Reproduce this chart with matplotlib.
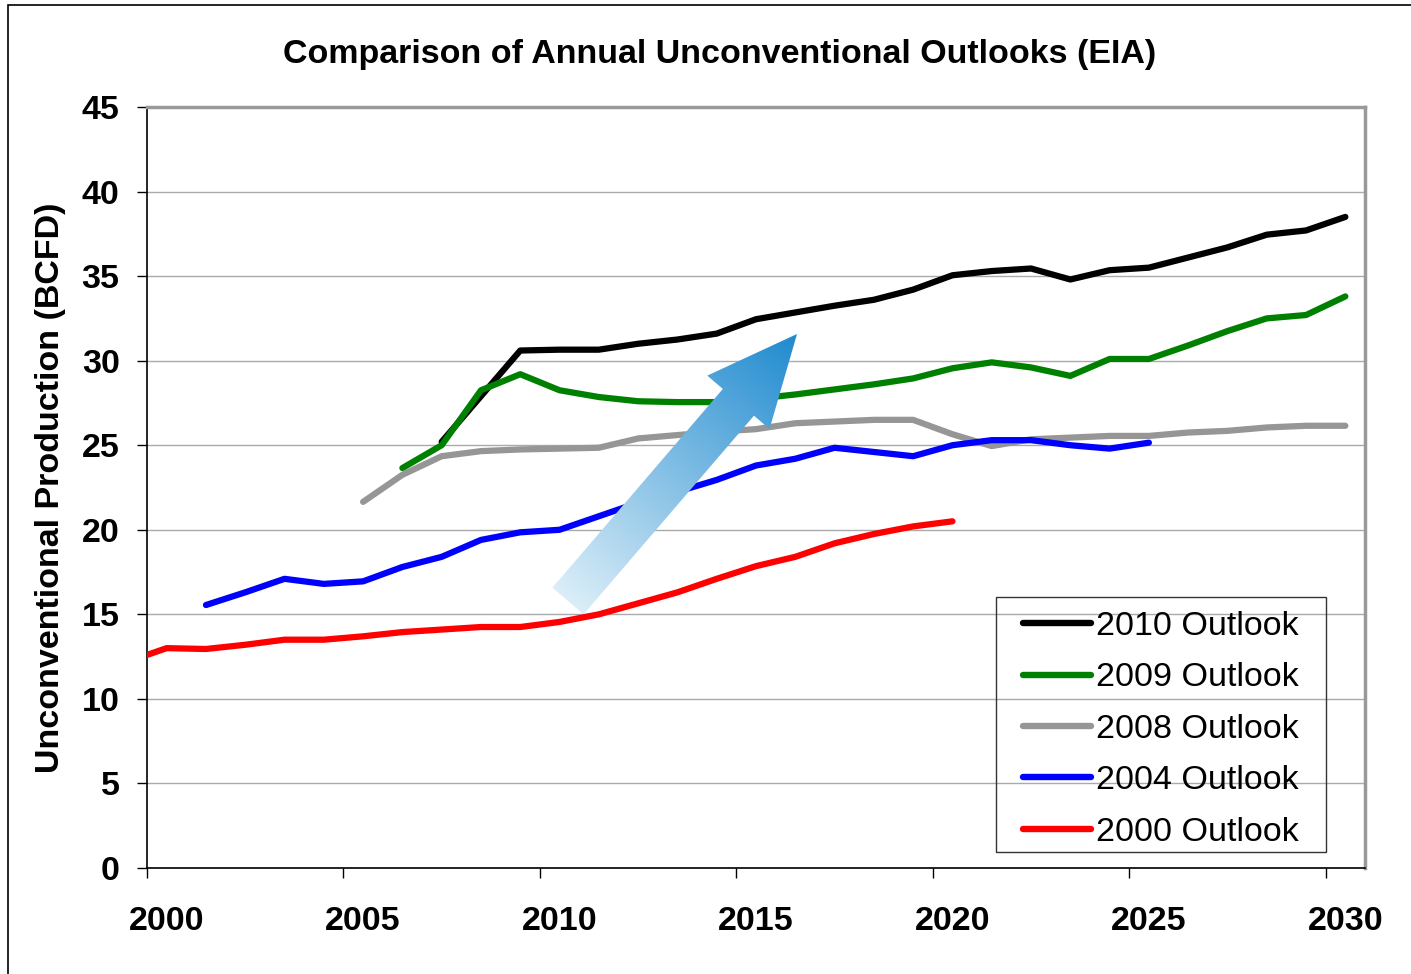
import numpy as np
import matplotlib
matplotlib.use("Agg")
import matplotlib.pyplot as plt
from matplotlib.patches import Polygon, Rectangle

plt.rcParams['font.family'] = ['Liberation Sans', 'DejaVu Sans']

# outlook series (value per year, plotted at mid-year)
years_2010 = list(range(2007, 2031))
vals_2010 = [25.2, 27.9, 30.6, 30.65, 30.65, 31.0, 31.25, 31.6, 32.45, 32.85, 33.25, 33.6,
             34.2, 35.05, 35.3, 35.45, 34.8, 35.35, 35.5, 36.1, 36.7, 37.45, 37.7, 38.5]

years_2009 = list(range(2006, 2031))
vals_2009 = [23.65, 25.0, 28.25, 29.2, 28.25, 27.85, 27.6, 27.55, 27.55, 27.75, 28.0, 28.3,
             28.6, 28.95, 29.55, 29.9, 29.6, 29.1, 30.1, 30.1, 30.9, 31.75, 32.5, 32.7, 33.8]

years_2008 = list(range(2005, 2031))
vals_2008 = [21.65, 23.25, 24.35, 24.65, 24.75, 24.8, 24.85, 25.4, 25.6, 25.8, 25.95, 26.3,
             26.4, 26.5, 26.5, 25.65, 24.95, 25.35, 25.45, 25.55, 25.55, 25.75, 25.85, 26.05,
             26.15, 26.15]

years_2004 = list(range(2001, 2026))
vals_2004 = [15.55, 16.3, 17.1, 16.8, 16.95, 17.8, 18.4, 19.4, 19.85, 20.0, 20.8, 21.6, 22.25,
             22.95, 23.8, 24.2, 24.85, 24.6, 24.35, 25.0, 25.3, 25.3, 25.0, 24.8, 25.15]

years_2000 = list(range(1999, 2021))
vals_2000 = [12.2, 13.0, 12.95, 13.2, 13.5, 13.5, 13.7, 13.95, 14.1, 14.25, 14.25, 14.55, 15.0,
             15.65, 16.3, 17.1, 17.85, 18.4, 19.2, 19.75, 20.2, 20.5]

tick_years = list(range(2000, 2031, 5))

series = [
    ("2010 Outlook", years_2010, vals_2010, "black"),
    ("2009 Outlook", years_2009, vals_2009, "#008000"),
    ("2008 Outlook", years_2008, vals_2008, "#969696"),
    ("2004 Outlook", years_2004, vals_2004, "#0000ff"),
    ("2000 Outlook", years_2000, vals_2000, "#ff0000"),
]

fig = plt.figure(figsize=(14.11, 9.74), dpi=100)
ax = fig.add_axes([147/1411, 1 - 868/974, (1365-147)/1411, (868-107)/974])

for label, yrs, vals, col in series:
    ax.plot(np.array(yrs) + 0.5, vals, color=col, lw=4.5, label=label,
            solid_capstyle='round', solid_joinstyle='round', zorder=3)

ax.set_xlim(2000, 2031)
ax.set_ylim(0, 45)
# tick marks on year boundaries, labels centred on the year (category style)
ax.set_xticks(tick_years)
ax.set_xticklabels([])
ax.set_xticks(np.array(tick_years) + 0.5, minor=True)
ax.set_xticklabels([str(y) for y in tick_years], minor=True)
ax.set_yticks(range(0, 46, 5))
ax.tick_params(axis='both', which='major', labelsize=24.5, length=7.2, width=1, direction='out')
ax.tick_params(axis='x', which='minor', labelsize=24.5, length=0, pad=27)
ax.tick_params(axis='y', pad=12.5)
for t in ax.get_xticklabels(minor=True) + ax.get_yticklabels():
    t.set_fontweight('bold')
ax.grid(axis='y', color='#aaaaaa', lw=1)
ax.set_axisbelow(True)
for s in ['top', 'right']:
    ax.spines[s].set_color('#999999')
    ax.spines[s].set_linewidth(2.5)
for s in ['left', 'bottom']:
    ax.spines[s].set_color('black')
    ax.spines[s].set_linewidth(1.2)

ax.set_ylabel('Unconventional Production (BCFD)', fontsize=24.5, fontweight='bold', labelpad=11)
fig.text(720/1411, 1 - 54/974, 'Comparison of Annual Unconventional Outlooks (EIA)',
         ha='center', va='center', fontsize=24.5, fontweight='bold')

# legend: entries without frame, box drawn separately
leg = ax.legend(loc='upper left', bbox_to_anchor=(1023/1411, 1 - 611/974),
                bbox_transform=fig.transFigure, fontsize=24.5, frameon=False,
                handlelength=2.0, handletextpad=0.15, labelspacing=0.6, borderpad=0,
                borderaxespad=0)
for h in leg.get_lines():
    h.set_linewidth(4.6)
fig.patches.append(Rectangle((996/1411, 1 - 852/974), 330/1411, 255/974,
                             transform=fig.transFigure, facecolor='none',
                             edgecolor='#333333', lw=1, zorder=5))

# gradient arrow (built in pixel space, converted to data coords)
fig.canvas.draw()
tail = np.array([568.0, 974 - 601.0])
tip = np.array([797.0, 974 - 334.0])
d = tip - tail
L = np.hypot(*d)
u = d / L
n = np.array([-u[1], u[0]])
hw, headw, headl = 20.5, 41.0, 90.0
base = tip - u * headl
pts_px = np.array([
    tail + n * hw, base + n * hw, base + n * headw, tip,
    base - n * headw, base - n * hw, tail - n * hw,
])
inv = ax.transData.inverted()
pts = inv.transform(pts_px)
poly = Polygon(pts, closed=True, facecolor='none', edgecolor='none', zorder=4)
ax.add_patch(poly)
gx = np.linspace(pts[:, 0].min(), pts[:, 0].max(), 300)
gy = np.linspace(pts[:, 1].min(), pts[:, 1].max(), 300)
GX, GY = np.meshgrid(gx, gy)
disp = ax.transData.transform(np.column_stack([GX.ravel(), GY.ravel()]))
proj = ((disp - tail) @ u / L).reshape(GX.shape)
proj = np.clip(proj, 0, 1)
c0 = np.array([0xdb, 0xee, 0xf8]) / 255
c1 = np.array([0x1f, 0x8a, 0xcf]) / 255
img = c0[None, None, :] * (1 - proj[..., None]) + c1[None, None, :] * proj[..., None]
im = ax.imshow(img, extent=[gx[0], gx[-1], gy[0], gy[-1]], origin='lower',
               aspect='auto', zorder=4, interpolation='bilinear')
im.set_clip_path(poly)
ax.set_xlim(2000, 2031)
ax.set_ylim(0, 45)

# outer chart frame
fig.patches.append(Rectangle((8/1411, -0.1), 1.2, 1 - 5/974 + 0.1, transform=fig.transFigure,
                             fill=False, edgecolor='black', lw=1.2))

fig.savefig('out.png', dpi=100)
